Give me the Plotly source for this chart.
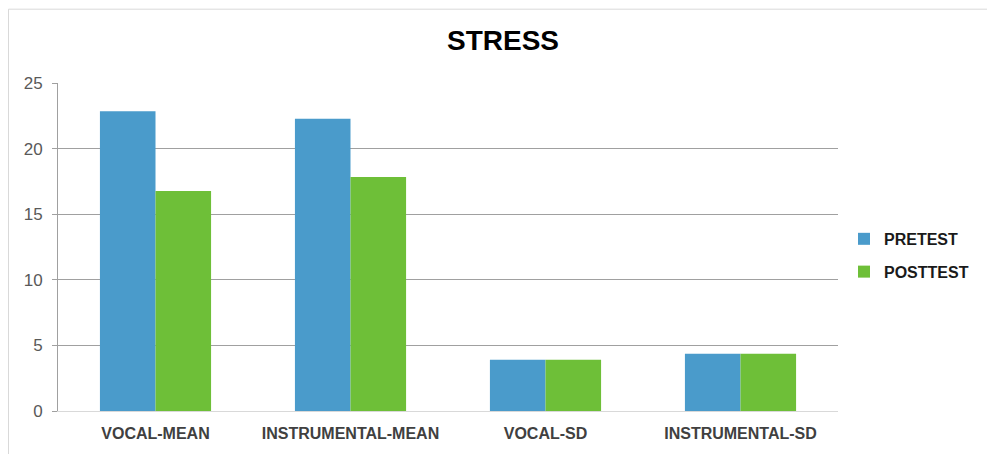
import plotly.graph_objects as go

categories = ["VOCAL-MEAN", "INSTRUMENTAL-MEAN", "VOCAL-SD", "INSTRUMENTAL-SD"]
pretest = [22.85, 22.27, 3.9, 4.37]
posttest = [16.77, 17.83, 3.9, 4.37]
series_names = ["PRETEST", "POSTTEST"]
colors = ["#4A9BCB", "#6EBF38"]
y_ticks = [0, 5, 10, 15, 20, 25]

fig = go.Figure()
for name, vals, col in zip(series_names, [pretest, posttest], colors):
    fig.add_trace(go.Bar(x=categories, y=vals, name=name, marker_color=col,
                         marker_line_width=0, legendgroup=name))

L, R, T, B = 58, 838, 83, 414
W, H = 987, 454

fig.update_layout(
    width=W, height=H,
    margin=dict(l=L, r=W - R, t=T, b=H - B, pad=0),
    paper_bgcolor="white", plot_bgcolor="white",
    barmode="group", bargap=0.43, bargroupgap=0,
    font=dict(family="Liberation Sans, Arial, sans-serif"),
    showlegend=True,
    legend=dict(x=(844 - L) / (R - L), xanchor="left",
                y=(B - 257) / (B - T), yanchor="middle",
                traceorder="grouped", tracegroupgap=9,
                font=dict(size=16, color="#1a1a1a", weight="bold"),
                bgcolor="rgba(0,0,0,0)"),
    xaxis=dict(showgrid=False, showline=True, linecolor="#d9d9d9", linewidth=1,
               ticks="", tickfont=dict(size=16, color="#404040", weight="bold"),
               ticklabelstandoff=8),
    yaxis=dict(range=[0, 25], tickvals=y_ticks, showgrid=True, gridcolor="#a0a0a0",
               gridwidth=1, showline=True, linecolor="#a0a0a0", linewidth=1,
               ticks="outside", ticklen=5, tickcolor="#a0a0a0",
               tickfont=dict(size=17, color="#595959"), zeroline=False,
               ticklabelstandoff=6),
    annotations=[dict(text="<b>STRESS</b>", xref="paper", yref="paper",
                      x=(503 - L) / (R - L), y=(B - 40) / (B - T),
                      xanchor="center", yanchor="middle", showarrow=False,
                      font=dict(size=28, color="#000000"))],
    shapes=[dict(type="rect", xref="paper", yref="paper",
                 x0=(8.5 - L) / (R - L), x1=(995 - L) / (R - L),
                 y0=(B - 470) / (B - T), y1=(B - 8.5) / (B - T),
                 line=dict(color="#d9d9d9", width=1), layer="below")],
)

fig.write_html("out.html")
